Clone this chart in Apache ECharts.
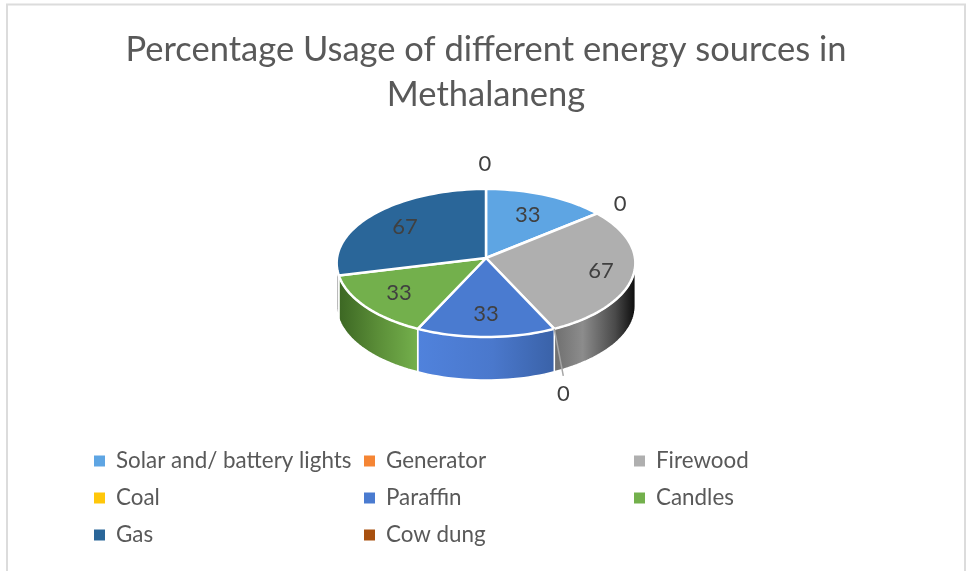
<!DOCTYPE html>
<html>
<head>
<meta charset="utf-8">
<style>
html, body { margin: 0; padding: 0; background: #fff; }
#chart { width: 967px; height: 571px; }
</style>
<script src="https://cdn.jsdelivr.net/npm/echarts@6/dist/echarts.min.js"></script>
</head>
<body>
<div id="chart"></div>
<script>
// data
var categories = ['Solar and/ battery lights', 'Generator', 'Firewood', 'Coal', 'Paraffin', 'Candles', 'Gas', 'Cow dung'];
var usage = [33, 0, 67, 0, 33, 33, 67, 0];
var colors = ['#5ea5e3', '#f58534', '#afafaf', '#ffc70a', '#4a7bd0', '#73b04c', '#2a6699', '#a8500f'];

// legend columns hold indexes into categories
var legendCols = [[0, 3, 6], [1, 4, 7], [2, 5]];
var legendLeft = [89, 359, 629];

// side wall shading per slice, left to right
var wallStops = {
	2: [[0, '#6f6f6f'], [0.35, '#8c8c8c'], [0.75, '#4a4a4a'], [1, '#0c0c0c']],
	4: [[0, '#5082dc'], [0.55, '#4a78cc'], [1, '#3a62a8']],
	5: [[0, '#3c6723'], [0.5, '#5b8e38'], [1, '#74b04c']],
	6: [[0, '#9a9a9a'], [1, '#777777']]
};
// where the value text sits along the slice radius, and the offset of the outside zeros
var labelRatio = [0.69, 0, 0.78, 0, 0.71, 0.72, 0.72, 0];
var zeroOffset = { 1: [23, -10], 3: [9, 65], 7: [-1, -25] };

// tilted disc projection
var cx = 486, cy = 258, rx = 149, ry = 73.7, persp = 0.0676, depth = 43;

function rim(deg, drop) {
	var t = deg * Math.PI / 180;
	var d = 1 + persp * Math.cos(t);
	return [cx + rx * Math.sin(t) / d, cy + (drop || 0) - ry * Math.cos(t) / d];
}

function arc(from, to, drop) {
	var pts = [];
	var n = Math.max(2, Math.ceil(Math.abs(to - from) / 2));
	for (var i = 0; i <= n; i++) {
		pts.push(rim(from + (to - from) * i / n, drop));
	}
	return pts;
}

var total = usage.reduce(function(a, b) { return a + b; }, 0);

function drawSlice(params, api) {
	var idx = api.value(0);
	var val = api.value(1);
	var before = 0;
	for (var i = 0; i < idx; i++) before += usage[i];
	var a0 = before / total * 360;
	var a1 = (before + val) / total * 360;
	var children = [];

	if (val === 0) {
		var p = rim(a0);
		var off = zeroOffset[idx];
		if (idx === 3) {
			children.push({
				type: 'line', z2: 5,
				shape: { x1: p[0], y1: p[1], x2: p[0] + off[0], y2: p[1] + off[1] - 18 },
				style: { stroke: '#a6a6a6', lineWidth: 1.5 }
			});
		}
		children.push({
			type: 'text', z2: 6,
			style: { text: String(val), x: p[0] + off[0], y: p[1] + off[1], align: 'center', verticalAlign: 'middle', font: '22px Lato', fill: '#404040' }
		});
		return { type: 'group', children: children };
	}

	// wall, only the front part of the disc shows one
	var w0 = Math.max(a0, 94), w1 = Math.min(a1, 266);
	if (w1 > w0) {
		var topEdge = arc(w0, w1, 0);
		var wallPts = topEdge.concat(arc(w1, w0, depth));
		var xs = wallPts.map(function(q) { return q[0]; });
		var minX = Math.min.apply(null, xs), maxX = Math.max.apply(null, xs);
		children.push({
			type: 'polygon', z2: 1,
			shape: { points: wallPts },
			style: {
				fill: {
					type: 'linear', x: minX, y: 0, x2: maxX, y2: 0, global: true,
					colorStops: (wallStops[idx] || [[0, colors[idx]], [1, colors[idx]]]).map(function(s) {
						return { offset: s[0], color: s[1] };
					})
				},
				stroke: '#fff', lineWidth: 1.5
			}
		});
	}

	// top face
	children.push({
		type: 'polygon', z2: 2,
		shape: { points: [[cx, cy]].concat(arc(a0, a1, 0)) },
		style: { fill: colors[idx], stroke: '#fff', lineWidth: 2.5, lineJoin: 'round' }
	});

	var mid = rim((a0 + a1) / 2);
	children.push({
		type: 'text', z2: 6,
		style: {
			text: String(val),
			x: cx + (mid[0] - cx) * labelRatio[idx],
			y: cy + (mid[1] - cy) * labelRatio[idx],
			align: 'center', verticalAlign: 'middle', font: '22px Lato', fill: '#404040'
		}
	});
	return { type: 'group', children: children };
}

var chart = echarts.init(document.getElementById('chart'));

chart.setOption({
	animation: false,
	backgroundColor: '#fff',
	title: {
		text: 'Percentage Usage of different energy sources in\nMethalaneng',
		left: 481,
		top: 22,
		textAlign: 'center',
		textStyle: { color: '#595959', fontFamily: 'Lato', fontWeight: 'normal', fontSize: 34.5, lineHeight: 45 }
	},
	graphic: [{
		type: 'rect', silent: true, z: -1,
		shape: { x: 7, y: 4.5, width: 958, height: 620 },
		style: { fill: 'none', stroke: '#dcdcdc', lineWidth: 2 }
	}],
	legend: legendCols.map(function(col, c) {
		return {
			orient: 'vertical',
			left: legendLeft[c],
			top: 445,
			itemWidth: 11,
			itemHeight: 11,
			itemGap: 15,
			icon: 'rect',
			selectedMode: false,
			textStyle: { color: '#595959', fontFamily: 'Lato', fontSize: 22.4, padding: [0, 0, 0, 6] },
			data: col.map(function(i) { return categories[i]; })
		};
	}),
	series: categories.map(function(name, i) {
		return {
			type: 'custom',
			name: name,
			coordinateSystem: 'none',
			silent: true,
			itemStyle: { color: colors[i] },
			renderItem: drawSlice,
			data: [[i, usage[i]]]
		};
	})
});
</script>
</body>
</html>
